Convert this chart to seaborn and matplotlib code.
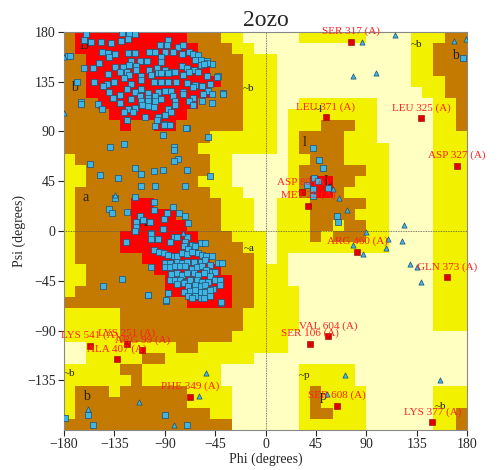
import numpy as np
import pandas as pd
import matplotlib
matplotlib.use("Agg")
import matplotlib.pyplot as plt
from matplotlib.colors import ListedColormap
import seaborn as sns

sns.set_style("white")
plt.rcParams['font.family'] = ['Liberation Serif', 'DejaVu Serif']

# Region grid: rows from psi 180 (top) downward, columns from phi -180, 10 deg cells
# p = disallowed, y = generous, b = allowed, r = core
region_rows = [
    "brrrrrrrrrrbbbyypp" + "pppyyyyyyppppyyybb",
    "brrrrrrrrrrrbbbyyp" + "pppppppppppppyybbb",
    "bbrrrrrrrrrrbbbbyy" + "y" + "pppppppppppp" + "yy" + "bbb",
    "bbrrrrrrrrrrrbbbyy" + "y" + "pppppppppppp" + "yy" + "bbb",
    "bbrrrrrrrrrrrrbbyy" + "y" + "pppppppppppp" + "yyy" + "bb",
    "bbrrrrrrrrrrrbbbyy" + "y" + "ppppppppppppp" + "yy" + "bb",
    "bbbrrrrrrrrrbbbbyy" + "ypp" + "yyyyyyy" + "ppppp" + "yyb",
    "bbbbrrrrrrrbbbbbyy" + "yp" + "yyyyyyyy" + "ppppp" + "yyb",
    "bbbbbrbbrrbbbbbbyy" + "ypyyybbbyy" + "ppppp" + "yyb",
    "bbbbbbbbbbbbbyyyyy" + "ypybbbbyyy" + "ppppp" + "yyy",
    "bbbbbbbbbbbbyyyyyy" + "ypybbbbyyyy" + "pppp" + "yyy",
    "ybbbbbbbbbbbbyyppp" + "ppyybbbyyyy" + "pppp" + "yyy",
    "yybbbbbbbbbbbyyppp" + "ppybbbbbbyy" + "pppp" + "yyy",
    "yybbbbbbbbbbyyyppp" + "ppybrrbbyyy" + "pppp" + "yyy",
    "ybbbbbbbbbbbbyyypp" + "ppybrrbyyyy" + "pppp" + "yyy",
    "ybbbbbrrbbbbbbyyyp" + "pyyybbbbbyy" + "pppp" + "yyy",
    "ybbbbbrrrrbbbbyyyp" + "pyyybbbbyyy" + "pppp" + "yyy",
    "ybbbbbrrrrrbbbyyyp" + "pyyybbybbyy" + "pppp" + "yyy",
    "ybbbbrrrrrrrbbbyyy" + "pyyybybbbyy" + "pppp" + "yyy",
    "ybbbbrrrrrrrbbbbyy" + "pyyyyyyyyyy" + "pppp" + "yyy",
    "ybbbbbbrrrrrrbbbby" + "py" + "ppppppppppppp" + "yyy",
    "yybbbbbbrrrrrrbbby" + "yy" + "ppppppppppppp" + "yyy",
    "yybbbbbbbrrrrrrbby" + "yy" + "ppppppppppppp" + "yyy",
    "ybbbbbbbbrrrrrrbby" + "yyy" + "pppppppppppp" + "yyy",
    "bbbbbbbbbbbrrrrbby" + "yyy" + "pppppppppppp" + "yyy",
    "yyyyybbbbbbbbbbbyy" + "yyy" + "pppppppppppp" + "yyy",
    "yyyyybbbbbbbbbbbyy" + "yyy" + "pppppppppppp" + "yyy",
    "yyyyybbbbbbbbbbyyy" + "yy" + "pppppppppppppppp",
    "ppyyyyyyyybbyyyyyy" + "yy" + "pppppppppppppppp",
    "ppyyyyybbyyyyyyyyp" + "pppppppppppppppppp",
    "yyyyybbyyyyyyypppp" + "ppp" + "yyyyy" + "pppppppppp",
    "yyyyyybyyyyyyypppp" + "ppp" + "yyyyy" + "pppppppppp",
    "ybbbybbbbbbyyyyppp" + "pppybyyyy" + "pppppp" + "yyy",
    "ybbbbbbbbbbyyyyppp" + "pppybyyyy" + "pppppp" + "yyy",
    "ybbbbbbbbbbbbyyppp" + "pppybbyyy" + "pppppp" + "yyb",
    "bbbbbbbbbbbbbbbppp" + "pppyyyyyy" + "pppppp" + "yyb",
]
region_codes = {"p": 0, "y": 1, "b": 2, "r": 3}
region_colors = ["#FFFFC2", "#F2F200", "#C47A00", "#FF0000"]

# Non-glycine residues (blue squares): phi, psi
sq_phi = [-160,-128,-122,-117,-162,-156,-147,-138,-129,-123,-94,-87,-88,-78,-74,-176,-146,-141,-134,-123,
          -117,-104,-99,-90,-83,-75,-68,-65,-60,-140,-149,-120,-112,-106,-93,-93,-63,-58,-52,-48,
          -162,-154,-134,-127,-122,-116,-124,-116,-104,-97,-90,-84,-75,-70,-64,-58,-52,-141,-130,-122,
          -111,-102,-96,-93,-87,-81,-74,-68,-60,-52,-42,-168,-153,-142,-135,-126,-120,-111,-100,-93,
          -87,-80,-70,-63,-57,-50,-145,-140,-124,-117,-111,-105,-96,-90,-84,-74,-65,-51,-136,-130,
          -120,-112,-105,-99,-93,-83,-74,-65,-56,-48,-165,-150,-130,-111,-105,-99,-81,-68,-57,-48,
          -38,-146,-123,-117,-110,-105,-100,-87,-81,-65,-126,-118,-96,-90,-84,-108,-97,-124,-90,-85,
          -70,-99,
          -175,-165,-91,-92,-71,-51,-126,-139,-82,-82,-78,-82,-157,-148,-117,-111,-100,-92,-70,-50,
          -132,-111,-99,-72,-134,-117,-140,-137,-124,-100,-100,-112,-116,-116,-103,-92,-88,-83,-77,-72,
          -69,-91,-109,-102,-38,-43,-55,
          -117,-102,-96,-82,-79,-70,-72,-85,-102,-66,-58,-54,-73,-69,-63,-100,-95,-91,-87,-82,
          -79,-75,-70,-66,-60,-57,-53,-48,-42,-39,-90,-85,-79,-75,-70,-64,-58,-54,-50,-102,
          -90,-85,-81,-76,-72,-66,-61,-57,-53,-48,-45,-84,-79,-75,-70,-64,-60,-55,-50,-45,
          -41,-85,-81,-76,-72,-67,-61,-57,-51,-79,-73,-69,-63,-58,-54,-47,-41,-73,-67,-63,
          -58,-54,-50,-87,-69,-63,-58,-55,-50,-66,-105,-89,-40,
          -125,-145,-128,-105,-89,-40,-179,-159,-154,-90,-70,
          176,42,48,51,43,47,37,42,56,42,64,65]
sq_psi = [178,179,178,178,173,171,171,170,172,174,168,173,168,166,168,158,162,161,160,161,
          161,162,162,162,162,160,162,160,159,157,152,154,154,154,157,153,155,155,154,151,
          147,147,148,148,150,149,144,146,146,147,146,144,149,147,146,150,152,142,144,141,
          140,141,143,143,143,144,141,144,144,140,140,135,135,133,135,138,133,137,135,135,
          135,135,134,132,131,133,131,126,128,126,128,125,126,127,127,126,130,127,120,123,
          119,122,120,122,119,122,124,120,124,124,117,115,116,118,118,118,118,118,118,116,
          125,110,110,111,114,113,112,110,114,114,108,108,103,105,108,103,100,100,97,96,
          93,95,
          158,115,96,87,93,85,79,76,76,73,65,63,61,51,57,52,54,55,55,50,
          48,41,41,41,30,31,20,16,17,26,19,14,8,4,8,2,16,22,16,14,
          7,11,10,-2,124,139,151,
          0,-3,-7,-5,-5,-5,-10,-10,-7,-13,-11,-11,-14,-16,-14,-17,-19,-20,-22,-23,
          -23,-20,-21,-19,-20,-22,-23,-23,-29,-29,-29,-29,-28,-29,-28,-28,-28,-26,-31,-33,
          -33,-33,-32,-32,-32,-34,-33,-32,-35,-37,-37,-39,-38,-40,-38,-38,-40,-38,-41,-44,
          -44,-44,-44,-44,-46,-44,-44,-46,-46,-48,-47,-50,-49,-50,-49,-52,-49,-55,-54,-53,
          -55,-55,-53,-56,-59,-59,-61,-61,-59,-61,-58,-63,-65,
          -10,-50,-43,-58,-62,-64,-169,-166,-175,-166,-175,
          156,75,64,57,48,45,42,38,39,32,14,8]

# Glycines (triangles)
gly_phi = [86,116,168,179,78,99,60,66,73,124,90,109,122,108,87,78,129,135,139,71,156,55,
           -53,-59,-113,-159,-82,-74,-180,-180,-134]
gly_psi = [171,177,172,174,140,143,38,30,19,5,-1,-7,-9,-15,-21,-13,-30,-33,-46,-130,-135,-147,
           -128,-149,-155,-161,-175,-2,157,107,33]

# Outliers (red squares, labelled)
out_names = ["SER 317 (A)","LEU 371 (A)","LEU 325 (A)","ASP 327 (A)","ASP 80 (A)","MET 29 (A)",
             "ARG 460 (A)","GLN 373 (A)","VAL 604 (A)","SER 106 (A)","SER 608 (A)","LYS 377 (A)",
             "LYS 541 (A)","LYS 251 (A)","ARG 99 (A)","ALA 407 (A)","PHE 349 (A)"]
out_phi = [76,54,139,171,33,38,82,162,56,40,64,149,-157,-124,-110,-133,-67]
out_psi = [171,103,102,59,35,23,-19,-42,-95,-102,-158,-173,-104,-102,-108,-116,-150]

# Region labels
reg_text = ["B","b","a","A","L","l","~l","~b","b","~b","~a","~b","b","~p","p","~b"]
reg_phi = [-162,-171,-161,-110,56,35,47,135,170,-15,-15,-175,-160,35,52,156]
reg_psi = [168,130,30,8,45,80,110,169,159,129,-16,-129,-150,-131,-150,-159]

fig = plt.figure(figsize=(5.0, 4.7), dpi=100)
ax = fig.add_axes([0.128, 0.085, 0.806, 0.847])

grid = np.array([[region_codes[ch] for ch in row] for row in region_rows])
phi_edges = np.arange(-180, 181, 10)
psi_edges = np.arange(180, -181, -10)
ax.pcolormesh(phi_edges, psi_edges, grid, cmap=ListedColormap(region_colors),
              vmin=-0.5, vmax=3.5, shading="flat", zorder=0)

ax.axhline(0, color="#555555", lw=0.6, ls=(0, (1, 1)), zorder=1)
ax.axvline(0, color="#555555", lw=0.6, ls=(0, (1, 1)), zorder=1)

for t, x, y in zip(reg_text, reg_phi, reg_psi):
    ax.text(x, y, t, fontsize=10 if len(t) == 1 else 8, ha="center", va="center", color="#222222", zorder=2)

sq = pd.DataFrame({"phi": sq_phi, "psi": sq_psi})
sns.scatterplot(data=sq, x="phi", y="psi", marker="s", s=16, color="#3EB5E5",
                edgecolor="#205070", linewidth=0.5, ax=ax, zorder=3)
gl = pd.DataFrame({"phi": gly_phi, "psi": gly_psi})
sns.scatterplot(data=gl, x="phi", y="psi", marker="^", s=14, color="#3EB5E5",
                edgecolor="#205070", linewidth=0.5, ax=ax, zorder=3)
od = pd.DataFrame({"phi": out_phi, "psi": out_psi})
sns.scatterplot(data=od, x="phi", y="psi", marker="s", s=16, color="#E00000",
                edgecolor="#900000", linewidth=0.4, ax=ax, zorder=4)
for n, x, y in zip(out_names, out_phi, out_psi):
    ax.text(x, y + 5, n, fontsize=8, color="#FF2020", ha="center", va="bottom", zorder=5)

ax.set_xlim(-180, 180)
ax.set_ylim(-180, 180)
ax.set_xticks([-180, -135, -90, -45, 0, 45, 90, 135, 180])
ax.set_yticks([-135, -90, -45, 0, 45, 90, 135, 180])
ax.tick_params(labelsize=10, length=4, pad=2, direction="out", bottom=True, left=True)
ax.set_xlabel("Phi (degrees)", fontsize=10, labelpad=1)
ax.set_ylabel("Psi (degrees)", fontsize=10, labelpad=1)
ax.set_title("2ozo", fontsize=17, pad=4)
for s in ax.spines.values():
    s.set_color("#888888")
    s.set_linewidth(0.8)

fig.savefig("out.png", dpi=100)
